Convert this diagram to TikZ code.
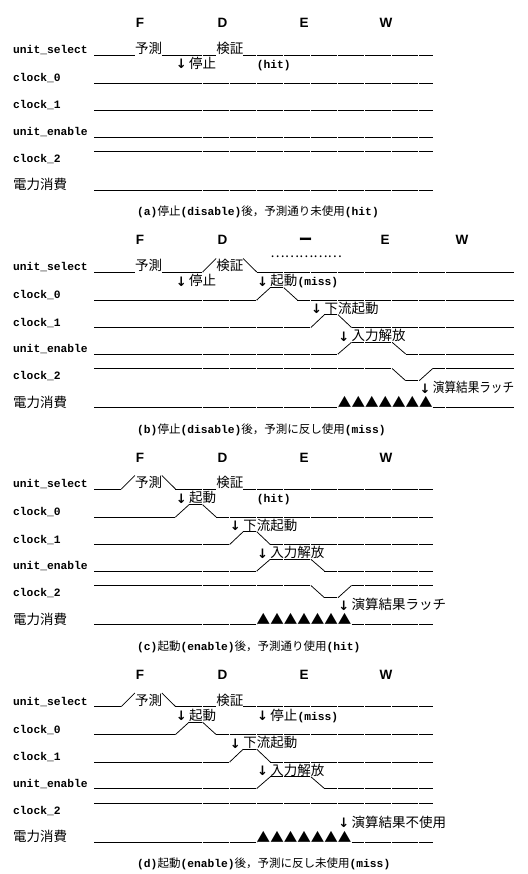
\documentclass[tikz,border=0pt]{standalone}
\usepackage{fontspec}
\newfontfamily\cjk{Noto Sans CJK JP}
\newfontfamily\cour{Liberation Mono}
\newfontfamily\hsans{Liberation Sans}
\newfontfamily\dvs{DejaVu Sans}
\newcounter{nn}
\def\yhd{28}\def\ydot{40.8}
\def\yusL{55}\def\yusT{41.5}\def\yusB{53.5}
\def\yrA{68.5}\def\ycOH{70.7}\def\ycOL{83}
\def\yrB{96}\def\ycIH{97.7}\def\ycIL{110.5}
\def\yrC{123.5}\def\yuH{125.3}\def\yuL{137}
\def\ycTH{151.5}\def\ycTL{163.7}
\def\yrD{175.5}\def\ypL{190.5}\def\ycap{216}
\def\PY{0}
\tikzset{
  sig/.style={line width=0.9pt, line cap=butt},
  slash/.style={line width=0.75pt},
  lab/.style={anchor=base west, inner sep=0pt, font=\cour\bfseries\fontsize{11.28}{12}\selectfont},
  jp/.style={anchor=base west, inner sep=0pt, font=\cjk\fontsize{13.5}{14}\selectfont},
  hdr/.style={anchor=base, inner sep=0pt, font=\hsans\bfseries\fontsize{13.5}{14}\selectfont},
  arr/.style={anchor=base, inner sep=0pt, font=\dvs\bfseries\fontsize{13}{13}\selectfont},
  tri/.style={anchor=base, inner sep=0pt, font=\cjk\fontsize{13.5}{14}\selectfont},
  capn/.style={anchor=base west, inner sep=0pt},
}
\newcommand\capm{\cour\bfseries\fontsize{11.28}{12}\selectfont}
\newcommand\capj{\cjk\fontsize{11.5}{12}\selectfont}
\newcommand\tHL[3]{\pgfmathsetmacro\tph{mod(#1,4)*6.77}%
  \draw[sig, dash pattern=on 26.28pt off 0.8pt, dash phase=\tph pt] ({13+6.77*#1},{\PY+#3}) -- ({13+6.77*#2},{\PY+#3});}
\newcommand\tSL[3]{\draw[slash] ({13+6.77*#1},{\PY+#2}) -- ({13+6.77*(#1+2)},{\PY+#3});}
\newcommand\tJP[3]{\stepcounter{nn}\node[jp] (n\arabic{nn}) at ({13+6.77*#1},{\PY+#2}) {#3};}
\newcommand\tMO[3]{\stepcounter{nn}\node[lab] (n\arabic{nn}) at ({13+6.77*#1},{\PY+#2}) {#3};}
\newcommand\tDN[2]{\stepcounter{nn}\node[arr] (n\arabic{nn}) at ({13+6.77*#1-1},{\PY+#2+0.5}) {↓};}
\newcommand\tHD[2]{\stepcounter{nn}\node[hdr] (n\arabic{nn}) at (#1,{\PY+\yhd}) {#2};}
\newcommand\tLAB[2]{\stepcounter{nn}\node[lab] (n\arabic{nn}) at (13,{\PY+#1}) {#2};}
\newcommand\tTRI[1]{\foreach \k in {0,...,6}{\stepcounter{nn}\node[tri] (n\arabic{nn}) at ({13+6.77*(#1+1+2*\k)},{\PY+\ypL}) {▲};}}
\newcommand\tCAP[5]{\stepcounter{nn}\node[capn] (n\arabic{nn}) at (137,{\PY+\ycap}) {{\capm #1}{\capj #2}{\capm #3}{\capj #4}{\capm #5}};}
\newcommand\tLABS{%
  \tLAB{53.5}{unit\_select}\tLAB{81.5}{clock\_0}\tLAB{109}{clock\_1}%
  \tLAB{135.5}{unit\_enable}\tLAB{162.5}{clock\_2}%
  \stepcounter{nn}\node[jp] (n\arabic{nn}) at (13,{\PY+190}) {電力消費};}
\begin{document}
\begin{tikzpicture}[x=1pt,y=-1pt]
\useasboundingbox[fill=white] (0,0) rectangle (527,874);
% ---------- panel (a)
\def\PY{0}
\tHD{140}{F}\tHD{222.5}{D}\tHD{304}{E}\tHD{386}{W}
\tLABS
\tHL{12}{18}{\yusL}\tJP{18}{\yusB}{予測}\tHL{22}{30}{\yusL}\tJP{30}{\yusB}{検証}\tHL{34}{62}{\yusL}
\tDN{25}{\yrA}\tJP{26}{\yrA}{停止}\tMO{36}{\yrA}{(hit)}
\tHL{12}{62}{\ycOL}
\tHL{12}{62}{\ycIL}
\tHL{12}{62}{\yuL}
\tHL{12}{62}{\ycTH}
\tHL{12}{62}{\ypL}
\tCAP{(a)}{停止}{(disable)}{後，予測通り未使用}{(hit)}
% ---------- panel (b)
\def\PY{217}
\tHD{140}{F}\tHD{222.5}{D}\tHD{385}{E}\tHD{462}{W}
\stepcounter{nn}\node[hdr, font=\cjk\bfseries\fontsize{13.5}{14}\selectfont] (n\arabic{nn}) at (305.5,{\PY+\yhd}) {ー};
\tJP{38}{\ydot}{……………}
\tLABS
\tHL{12}{18}{\yusL}\tJP{18}{\yusB}{予測}\tHL{22}{28}{\yusL}\tSL{28}{\yusL}{\yusT}\tJP{30}{\yusB}{検証}\tSL{34}{\yusT}{\yusL}\tHL{36}{74}{\yusL}
\tDN{25}{\yrA}\tJP{26}{\yrA}{停止}\tDN{37}{\yrA}\tJP{38}{\yrA}{起動}\tMO{42}{\yrA}{(miss)}
\tHL{12}{36}{\ycOL}\tSL{36}{\ycOL}{\ycOH}\tHL{38}{40}{\ycOH}\tSL{40}{\ycOH}{\ycOL}\tHL{42}{74}{\ycOL}
\tDN{45}{\yrB}\tJP{46}{\yrB}{下流起動}
\tHL{12}{44}{\ycIL}\tSL{44}{\ycIL}{\ycIH}\tHL{46}{48}{\ycIH}\tSL{48}{\ycIH}{\ycIL}\tHL{50}{74}{\ycIL}
\tDN{49}{\yrC}\tJP{50}{\yrC}{入力解放}
\tHL{12}{48}{\yuL}\tSL{48}{\yuL}{\yuH}\tHL{50}{56}{\yuH}\tSL{56}{\yuH}{\yuL}\tHL{58}{74}{\yuL}
\tHL{12}{56}{\ycTH}\tSL{56}{\ycTH}{\ycTL}\tHL{58}{60}{\ycTL}\tSL{60}{\ycTL}{\ycTH}\tHL{62}{74}{\ycTH}
\tDN{61}{\yrD}\tJP{62}{\yrD}{\scalebox{0.86}[1]{演算結果ラッチ}}
\tHL{12}{48}{\ypL}\tTRI{48}\tHL{62}{74}{\ypL}
\tCAP{(b)}{停止}{(disable)}{後，予測に反し使用}{(miss)}
% ---------- panel (c)
\def\PY{434}
\tHD{140}{F}\tHD{222.5}{D}\tHD{304}{E}\tHD{386}{W}
\tLABS
\tHL{12}{16}{\yusL}\tSL{16}{\yusL}{\yusT}\tJP{18}{\yusB}{予測}\tSL{22}{\yusT}{\yusL}\tHL{24}{30}{\yusL}\tJP{30}{\yusB}{検証}\tHL{34}{62}{\yusL}
\tDN{25}{\yrA}\tJP{26}{\yrA}{起動}\tMO{36}{\yrA}{(hit)}
\tHL{12}{24}{\ycOL}\tSL{24}{\ycOL}{\ycOH}\tHL{26}{28}{\ycOH}\tSL{28}{\ycOH}{\ycOL}\tHL{30}{62}{\ycOL}
\tDN{33}{\yrB}\tJP{34}{\yrB}{下流起動}
\tHL{12}{32}{\ycIL}\tSL{32}{\ycIL}{\ycIH}\tHL{34}{36}{\ycIH}\tSL{36}{\ycIH}{\ycIL}\tHL{38}{62}{\ycIL}
\tDN{37}{\yrC}\tJP{38}{\yrC}{入力解放}
\tHL{12}{36}{\yuL}\tSL{36}{\yuL}{\yuH}\tHL{38}{44}{\yuH}\tSL{44}{\yuH}{\yuL}\tHL{46}{62}{\yuL}
\tHL{12}{44}{\ycTH}\tSL{44}{\ycTH}{\ycTL}\tHL{46}{48}{\ycTL}\tSL{48}{\ycTL}{\ycTH}\tHL{50}{62}{\ycTH}
\tDN{49}{\yrD}\tJP{50}{\yrD}{演算結果ラッチ}
\tHL{12}{36}{\ypL}\tTRI{36}\tHL{50}{62}{\ypL}
\tCAP{(c)}{起動}{(enable)}{後，予測通り使用}{(hit)}
% ---------- panel (d)
\def\PY{651.5}
\tHD{140}{F}\tHD{222.5}{D}\tHD{304}{E}\tHD{386}{W}
\tLABS
\tHL{12}{16}{\yusL}\tSL{16}{\yusL}{\yusT}\tJP{18}{\yusB}{予測}\tSL{22}{\yusT}{\yusL}\tHL{24}{30}{\yusL}\tJP{30}{\yusB}{検証}\tHL{34}{62}{\yusL}
\tDN{25}{\yrA}\tJP{26}{\yrA}{起動}\tDN{37}{\yrA}\tJP{38}{\yrA}{停止}\tMO{42}{\yrA}{(miss)}
\tHL{12}{24}{\ycOL}\tSL{24}{\ycOL}{\ycOH}\tHL{26}{28}{\ycOH}\tSL{28}{\ycOH}{\ycOL}\tHL{30}{62}{\ycOL}
\tDN{33}{\yrB}\tJP{34}{\yrB}{下流起動}
\tHL{12}{32}{\ycIL}\tSL{32}{\ycIL}{\ycIH}\tHL{34}{36}{\ycIH}\tSL{36}{\ycIH}{\ycIL}\tHL{38}{62}{\ycIL}
\tDN{37}{\yrC}\tJP{38}{\yrC}{入力解放}
\tHL{12}{36}{\yuL}\tSL{36}{\yuL}{\yuH}\tHL{38}{44}{\yuH}\tSL{44}{\yuH}{\yuL}\tHL{46}{62}{\yuL}
\tHL{12}{62}{\ycTH}
\tDN{49}{\yrD}\tJP{50}{\yrD}{演算結果不使用}
\tHL{12}{36}{\ypL}\tTRI{36}\tHL{50}{62}{\ypL}
\tCAP{(d)}{起動}{(enable)}{後，予測に反し未使用}{(miss)}
\end{tikzpicture}
\end{document}
